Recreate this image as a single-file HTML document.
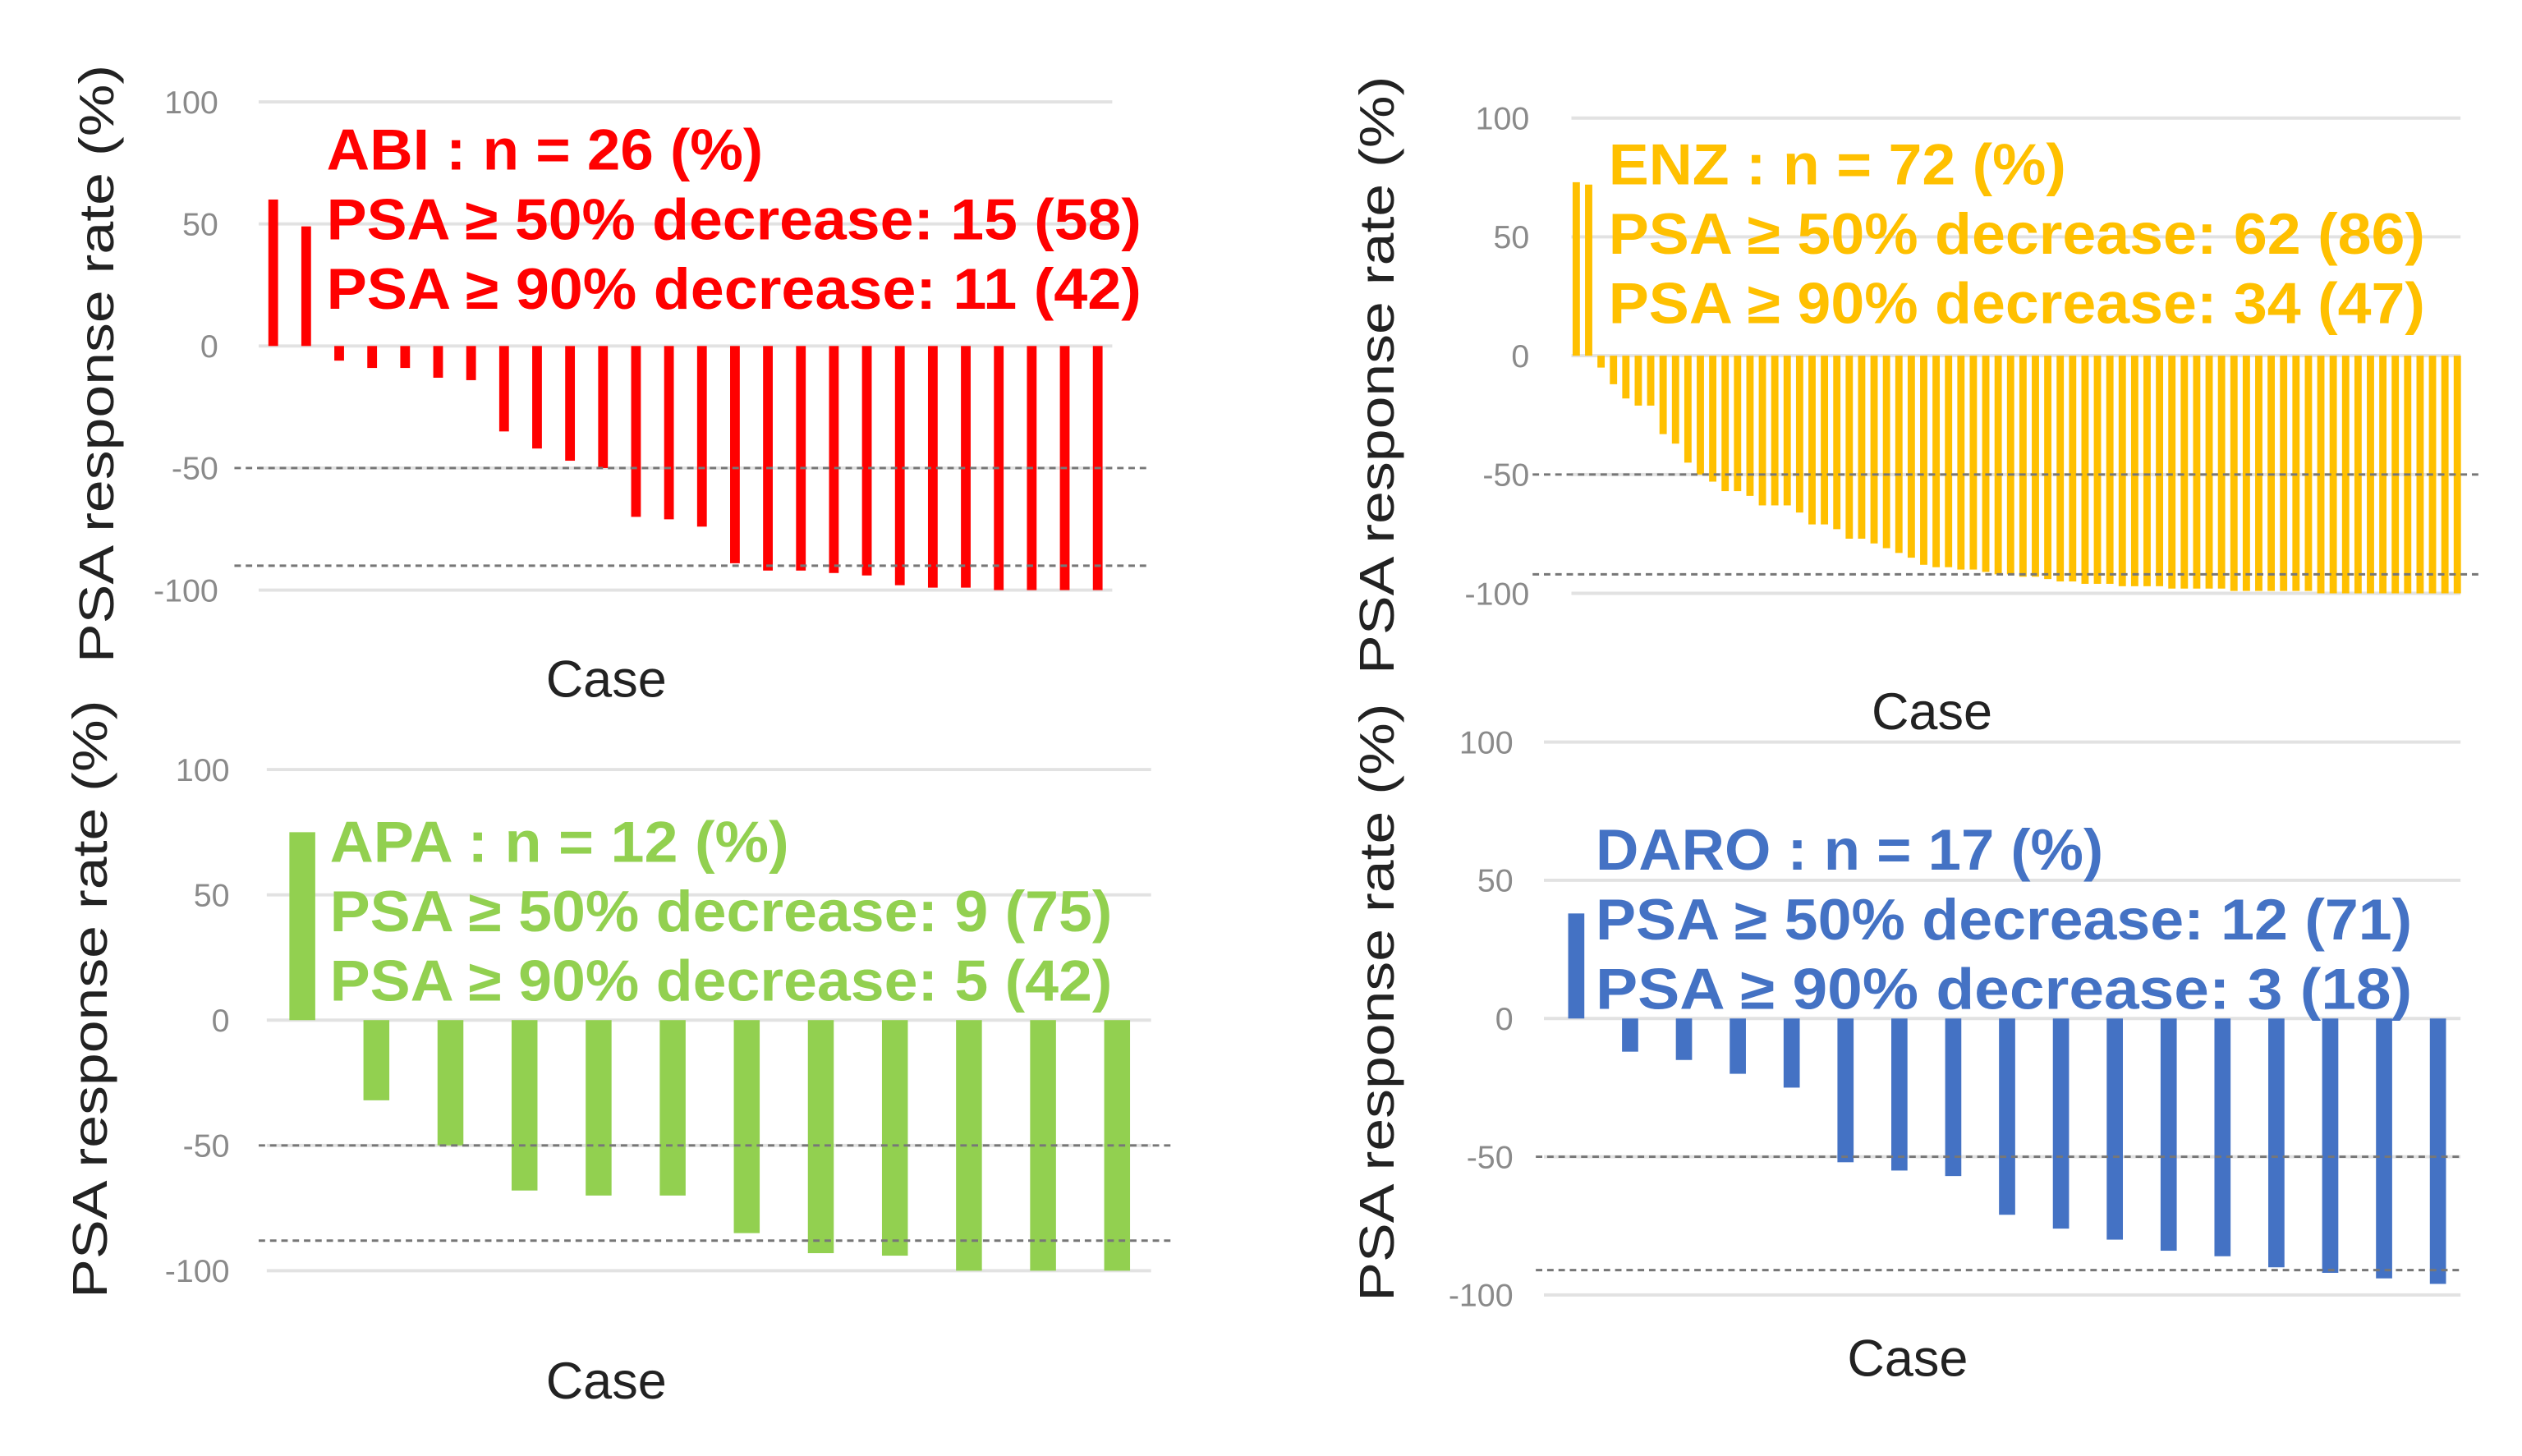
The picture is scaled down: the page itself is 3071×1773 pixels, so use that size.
<!DOCTYPE html>
<html><head><meta charset="utf-8"><style>
html,body{margin:0;padding:0;background:#fff;}
svg{display:block;}
text{font-family:"Liberation Sans",sans-serif;}
</style></head><body>
<svg id="chart" width="3071" height="1773" viewBox="0 0 1560 900.6" xmlns="http://www.w3.org/2000/svg"></svg>
<script>
const abiValues=[60,49,-6,-9,-9,-13,-14,-35,-42,-47,-50,-70,-71,-74,-89,-92,-92,-93,-94,-98,-99,-99,-100,-100,-100,-100];
const enzValues=[73,72,-5,-12,-18,-21,-21,-33,-37,-45,-50,-53,-57,-57,-59,-63,-63,-63,-66,-71,-71,-73,-77,-77,-79,-81,-83,-85,-88,-89,-89,-90,-90,-91,-92,-92,-93,-93,-94,-95,-95,-96,-96,-96,-97,-97,-97,-97,-98,-98,-98,-98,-98,-99,-99,-99,-99,-99,-99,-99,-100,-100,-100,-100,-100,-100,-100,-100,-100,-100,-100,-100];
const apaValues=[75,-32,-50,-68,-70,-70,-85,-93,-94,-100,-100,-100];
const daroValues=[38,-12,-15,-20,-25,-52,-55,-57,-71,-76,-80,-84,-86,-90,-92,-94,-96];
const tickValues=[100,50,0,-50,-100];
const tickLabels=["100","50","0","-50","-100"];
const abiText=["ABI : n = 26 (%)","PSA \u2265 50% decrease: 15 (58)","PSA \u2265 90% decrease: 11 (42)"];
const enzText=["ENZ : n = 72 (%)","PSA \u2265 50% decrease: 62 (86)","PSA \u2265 90% decrease: 34 (47)"];
const apaText=["APA : n = 12 (%)","PSA \u2265 50% decrease: 9 (75)","PSA \u2265 90% decrease: 5 (42)"];
const daroText=["DARO : n = 17 (%)","PSA \u2265 50% decrease: 12 (71)","PSA \u2265 90% decrease: 3 (18)"];
const abiThresholds=[-50,-90];
const enzThresholds=[-50,-92];
const apaThresholds=[-50,-88];
const daroThresholds=[-50,-91];

const NS="http://www.w3.org/2000/svg";
const svg=document.getElementById('chart');
function mk(tag,attrs,parent,txt){const e=document.createElementNS(NS,tag);for(const k in attrs)e.setAttribute(k,attrs[k]);if(txt!==undefined)e.textContent=txt;(parent||svg).appendChild(e);return e;}

function panel(p){
  const g=mk('g',{});
  
  
  const y=v=>p.y0+(p.y100-p.y0)*v/100;
  tickValues.forEach((t,i)=>{
    const gl=mk('line',{x1:p.gx1,x2:p.gx2,y1:y(t),y2:y(t),stroke:'#e2e2e2','stroke-width':2},g);
    
    
    const tl=mk('text',{x:p.tickX,y:y(t)+7,'text-anchor':'end','font-size':20,fill:'#8a8a8a'},g,tickLabels[i]);
    
    
  });
  const n=p.values.length;
  const step=(p.bx2-p.bx1)/(n-1);
  p.values.forEach((v,i)=>{
    const cx=p.bx1+i*step;
    const top=Math.min(y(0),y(v)),h=Math.abs(y(v)-y(0));
    const r=mk('rect',{x:cx-p.bw/2,y:top,width:p.bw,height:h,fill:p.color},g);
    
    
  });
  p.thresholds.forEach(t=>{
    const d=mk('line',{x1:p.dx1,x2:p.dx2,y1:y(t),y2:y(t),stroke:'#777','stroke-width':1.5,'stroke-dasharray':'4 3'},g);
    
    
  });
  const yl=mk('text',{x:0,y:0,transform:`translate(${p.ylX},${p.ylY}) rotate(-90)`,'text-anchor':'middle','font-size':30,fill:'#222',textLength:370,lengthAdjust:'spacingAndGlyphs'},g,'PSA response rate (%)');
  
  
  const xl=mk('text',{x:p.caseX,y:p.caseY,'text-anchor':'middle','font-size':32,fill:'#222'},g,'Case');
  
  
  p.text.forEach((s,i)=>{
    const w=i===0?p.tw0:p.tw;
    const t=mk('text',{x:p.tx,y:p.ty+i*43,'font-size':36,'font-weight':'bold',fill:p.color,textLength:w,lengthAdjust:'spacingAndGlyphs'},g,s);
    
    
  });
}
panel({name:'abi',values:abiValues,thresholds:abiThresholds,text:abiText,color:'#ff0000',y0:214,y100:63,gx1:160,gx2:688,tickX:135,bx1:169,bx2:679,bw:6,dx1:145,dx2:712,ylX:70,ylY:225,caseX:375,caseY:431,tx:202,ty:105,tw0:270,tw:504});
panel({name:'enz',values:enzValues,thresholds:enzThresholds,text:enzText,color:'#ffc000',y0:220,y100:73,gx1:972,gx2:1522,tickX:946,bx1:975,bx2:1520,bw:4.5,dx1:948,dx2:1535,ylX:862,ylY:232,caseX:1195,caseY:451,tx:995,ty:114,tw0:283,tw:505});
panel({name:'apa',values:apaValues,thresholds:apaThresholds,text:apaText,color:'#92d050',y0:631,y100:476,gx1:165,gx2:712,tickX:142,bx1:187,bx2:691,bw:16,dx1:160,dx2:727,ylX:66,ylY:618,caseX:375,caseY:865,tx:204,ty:533,tw0:284,tw:484});
panel({name:'daro',values:daroValues,thresholds:daroThresholds,text:daroText,color:'#4472c4',y0:630,y100:459,gx1:955,gx2:1522,tickX:936,bx1:975,bx2:1508,bw:10,dx1:950,dx2:1522,ylX:862,ylY:620,caseX:1180,caseY:851,tx:987,ty:538,tw0:314,tw:505});
</script>
</body></html>
